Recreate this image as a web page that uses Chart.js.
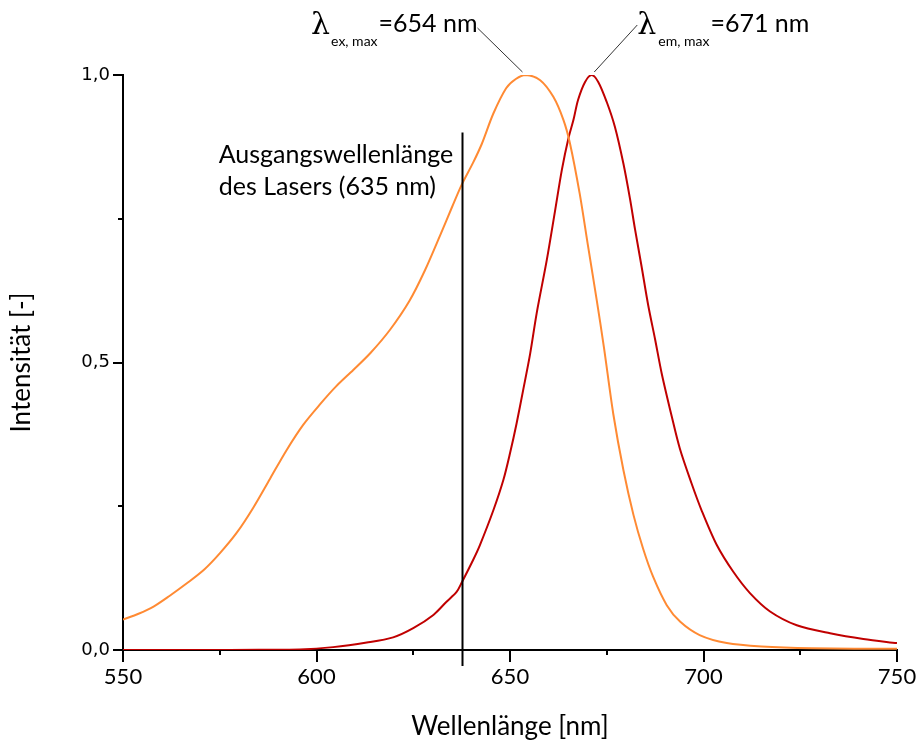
<!DOCTYPE html>
<html>
<head>
<meta charset="utf-8">
<script src="https://cdn.jsdelivr.net/npm/chart.js@4.4.1/dist/chart.umd.min.js"></script>
<style>
  html, body { margin: 0; padding: 0; background: #ffffff; }
  #wrap { width: 916px; height: 743px; }
</style>
</head>
<body>
<div id="wrap"><canvas id="c" width="916" height="743"></canvas></div>
<script>
// ---- data ----
const exWavelength = [550, 554, 558, 562, 566.5, 571, 575, 579.4, 583.7, 588, 592.3, 596.6, 601, 605, 609.5, 614, 619, 624, 628, 632, 635, 637.5, 640.5, 642.7, 645.7, 649, 651.5, 654, 657.8, 661.2, 663.8, 665.5, 668, 670.2, 672.4, 674.3, 676.7, 679.3, 681.9, 684.4, 687, 690.5, 694, 699, 706, 715, 728, 750];
const exIntensity  = [0.053, 0.063, 0.076, 0.094, 0.116, 0.140, 0.168, 0.204, 0.248, 0.298, 0.348, 0.392, 0.428, 0.458, 0.487, 0.517, 0.557, 0.607, 0.660, 0.722, 0.770, 0.809, 0.848, 0.880, 0.933, 0.977, 0.993, 1.0, 0.991, 0.962, 0.922, 0.881, 0.794, 0.701, 0.609, 0.525, 0.410, 0.313, 0.235, 0.176, 0.127, 0.078, 0.049, 0.026, 0.012, 0.006, 0.003, 0.002];

const emWavelength = [550, 570, 585, 595.7, 604.3, 613, 619.8, 625, 630.2, 633.6, 636.2, 637.5, 640.5, 642.2, 645.7, 648.3, 650, 651.7, 653.4, 655.2, 656.9, 659.5, 661.6, 663.4, 665.1, 666.4, 667.6, 669.4, 671.1, 672.8, 675, 677.1, 679.3, 681, 682.3, 684, 685.7, 687.5, 689.2, 691.8, 693.9, 696.9, 699.5, 703.4, 707.7, 712, 717.2, 724.1, 732.7, 741.3, 750];
const emIntensity  = [0, 0, 0.0005, 0.001, 0.005, 0.013, 0.022, 0.038, 0.061, 0.084, 0.101, 0.117, 0.157, 0.182, 0.243, 0.296, 0.342, 0.394, 0.452, 0.515, 0.586, 0.678, 0.762, 0.835, 0.890, 0.922, 0.957, 0.988, 1.0, 0.988, 0.953, 0.910, 0.846, 0.785, 0.732, 0.667, 0.600, 0.540, 0.481, 0.406, 0.350, 0.290, 0.243, 0.183, 0.136, 0.099, 0.067, 0.043, 0.029, 0.019, 0.012];

const xTickValues = [550, 575, 600, 625, 650, 675, 700, 725, 750];
const xTickLabels = ['550', '', '600', '', '650', '', '700', '', '750'];
const yTickValues = [0, 0.25, 0.5, 0.75, 1.0];
const yTickLabels = ['0,0', '', '0,5', '', '1,0'];

const laserWavelength = 637.5;   // drawn position of the laser line
const laserTop = 0.9;
const laserText = ['Ausgangswellenlänge', 'des Lasers (635 nm)'];
const exPeak = { x: 654, y: 1.0, sub: 'ex, max', text: '=654 nm' };
const emPeak = { x: 671, y: 1.0, sub: 'em, max', text: '=671 nm' };
const xTitle = 'Wellenlänge [nm]';
const yTitle = 'Intensität [-]';

const ORANGE = '#FF8A33';
const RED = '#C00000';
const MAIN_FONT = 'Lato, "Open Sans", sans-serif';

function pts(xs, ys) { return xs.map((x, i) => ({ x: x, y: ys[i] })); }

const decorPlugin = {
  id: 'decor',
  afterDraw(chart) {
    const ctx = chart.ctx;
    const xs = chart.scales.x, ys = chart.scales.y;
    const axisY = ys.getPixelForValue(0);
    const axisX = xs.getPixelForValue(550);
    ctx.save();
    ctx.strokeStyle = '#000';
    ctx.lineWidth = 2;
    // x tick marks
    xTickValues.forEach((v, i) => {
      const px = Math.round(xs.getPixelForValue(v));
      const len = xTickLabels[i] ? 12 : 5;
      ctx.beginPath(); ctx.moveTo(px, axisY); ctx.lineTo(px, axisY + len); ctx.stroke();
    });
    // y tick marks
    yTickValues.forEach((v, i) => {
      const py = Math.round(ys.getPixelForValue(v));
      const len = yTickLabels[i] ? 10 : 5;
      ctx.beginPath(); ctx.moveTo(axisX, py); ctx.lineTo(axisX - len, py); ctx.stroke();
    });
    // laser line
    const lx = Math.round(xs.getPixelForValue(laserWavelength)) + 0.5;
    ctx.beginPath();
    ctx.moveTo(lx, ys.getPixelForValue(laserTop));
    ctx.lineTo(lx, axisY + 16);
    ctx.stroke();
    // laser text
    ctx.fillStyle = '#000';
    ctx.font = '25px ' + MAIN_FONT;
    ctx.textAlign = 'left';
    ctx.textBaseline = 'alphabetic';
    const tx = xs.getPixelForValue(575) - 1;
    ctx.fillText(laserText[0], tx, ys.getPixelForValue(0.86) + 7);
    ctx.fillText(laserText[1], tx, ys.getPixelForValue(0.803) + 7);

    // peak labels
    ctx.lineWidth = 1;
    ctx.strokeStyle = '#333';
    // excitation: leader up-left
    const exPx = xs.getPixelForValue(exPeak.x), exPy = ys.getPixelForValue(exPeak.y);
    ctx.beginPath(); ctx.moveTo(exPx - 3, exPy - 3); ctx.lineTo(exPx - 48, exPy - 47); ctx.stroke();
    let right = exPx - 48;
    const base = exPy - 43;
    ctx.textAlign = 'right';
    ctx.font = '25px ' + MAIN_FONT;
    ctx.fillText(exPeak.text, right, base);
    right -= ctx.measureText(exPeak.text).width;
    ctx.font = '14px ' + MAIN_FONT;
    ctx.fillText(exPeak.sub, right - 1, base + 14);
    right -= ctx.measureText(exPeak.sub).width + 2;
    ctx.font = '30px "DejaVu Serif", "Liberation Serif", serif';
    ctx.fillText('λ', right, base + 2);
    // emission: leader up-right
    const emPx = xs.getPixelForValue(emPeak.x), emPy = ys.getPixelForValue(emPeak.y);
    ctx.beginPath(); ctx.moveTo(emPx + 3, emPy - 3); ctx.lineTo(emPx + 46, emPy - 50); ctx.stroke();
    let left = emPx + 46;
    ctx.textAlign = 'left';
    ctx.font = '30px "DejaVu Serif", "Liberation Serif", serif';
    ctx.fillText('λ', left, base + 2);
    left += ctx.measureText('λ').width + 2;
    ctx.font = '14px ' + MAIN_FONT;
    ctx.fillText(emPeak.sub, left, base + 14);
    left += ctx.measureText(emPeak.sub).width + 1;
    ctx.font = '25px ' + MAIN_FONT;
    ctx.fillText(emPeak.text, left, base);
    ctx.restore();
  }
};

new Chart(document.getElementById('c'), {
  type: 'line',
  data: {
    datasets: [
      { label: 'Anregung', data: pts(exWavelength, exIntensity), borderColor: ORANGE, borderWidth: 2, pointRadius: 0, tension: 0.3, fill: false },
      { label: 'Emission', data: pts(emWavelength, emIntensity), borderColor: RED, borderWidth: 2, pointRadius: 0, tension: 0.3, fill: false }
    ]
  },
  options: {
    responsive: false,
    animation: false,
    devicePixelRatio: 1,
    layout: { padding: { top: 75, right: 19, left: 0, bottom: 0 } },
    plugins: { legend: { display: false }, tooltip: { enabled: false } },
    scales: {
      x: {
        type: 'linear', min: 550, max: 750,
        afterBuildTicks: (s) => { s.ticks = xTickValues.map(v => ({ value: v })); },
        afterFit: (s) => { s.height = 93; s.paddingLeft = 0; s.paddingRight = 0; },
        ticks: { autoSkip: false, maxRotation: 0, padding: 14, color: '#000', font: { family: MAIN_FONT, size: 22 },
                 callback: (v) => xTickLabels[xTickValues.indexOf(v)] },
        grid: { display: false, drawTicks: false },
        border: { display: true, color: '#000', width: 2 },
        title: { display: true, text: xTitle, color: '#000', font: { family: MAIN_FONT, size: 26 }, padding: { top: 0, bottom: 1 } }
      },
      y: {
        type: 'linear', min: 0, max: 1,
        afterBuildTicks: (s) => { s.ticks = yTickValues.map(v => ({ value: v })); },
        afterFit: (s) => { s.width = 123; s.paddingTop = 0; s.paddingBottom = 0; },
        ticks: { autoSkip: false, padding: 13, color: '#000', font: { family: '"DejaVu Sans", sans-serif', size: 18 },
                 callback: (v) => yTickLabels[yTickValues.indexOf(v)] },
        grid: { display: false, drawTicks: false },
        border: { display: true, color: '#000', width: 2 },
        title: { display: true, text: yTitle, color: '#000', font: { family: MAIN_FONT, size: 26 }, padding: { top: 6, bottom: 0 } }
      }
    }
  },
  plugins: [decorPlugin]
});
</script>
</body>
</html>
